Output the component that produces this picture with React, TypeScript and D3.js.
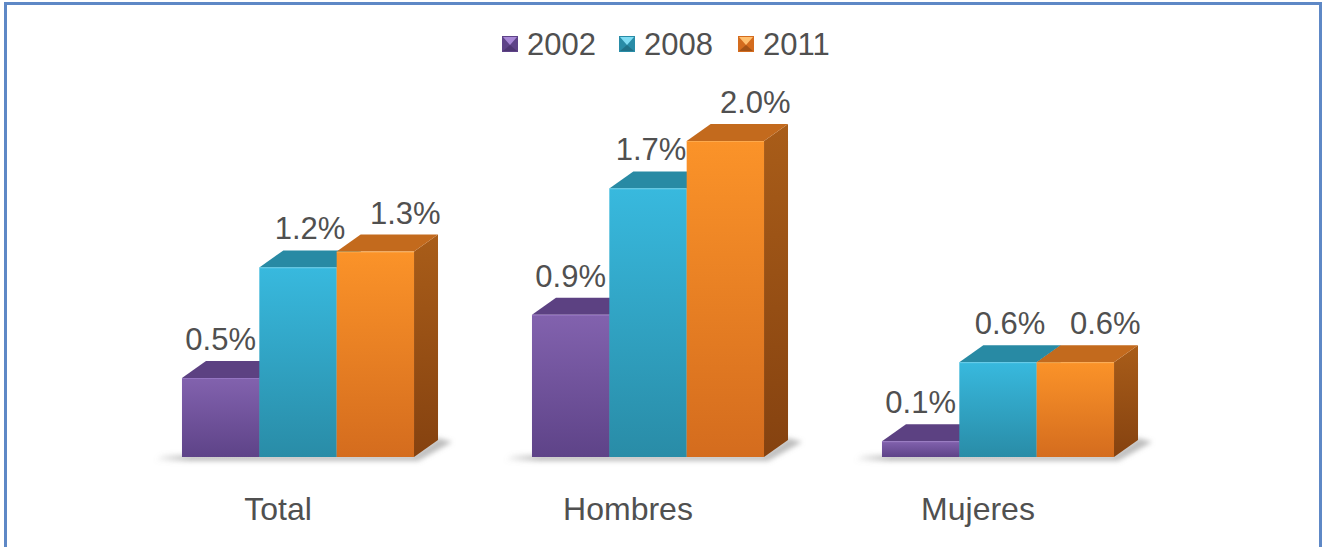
import React from 'react';
import { scaleBand, scaleLinear, format } from 'd3';

const width = 1326;
const height = 547;

// data (percent)
const categories = ['Total', 'Hombres', 'Mujeres'];
const years = ['2002', '2008', '2011'];
const values2002 = [0.5, 0.9, 0.1];
const values2008 = [1.2, 1.7, 0.6];
const values2011 = [1.3, 2.0, 0.6];
const seriesValues = [values2002, values2008, values2011];

// face colours per series: front top, front bottom, top face, side top, side bottom, marker light
const palette = [
  { front0: '#8262ae', front1: '#5e4388', top: '#5c4182', side0: '#54397a', side1: '#452e66', light: '#a888d6' },
  { front0: '#38b9de', front1: '#298ca7', top: '#288aa4', side0: '#22768e', side1: '#1b6175', light: '#7fdcf3' },
  { front0: '#fb9329', front1: '#d46c1e', top: '#c36a1d', side0: '#a95d19', side1: '#854210', light: '#ffc070' },
];
// data labels sit a little right of the front face, more so for the back series
const labelShift = [0, 12, 30];

const baseY = 457;
const dx = 24;
const dy = 17;
const font = '"Liberation Sans", Arial, sans-serif';
const textColor = '#505050';
const fmt = format('.1f');

export default function App() {
  const x0 = scaleBand<string>()
    .domain(categories)
    .range([123, 1173])
    .paddingInner(0.337)
    .paddingOuter(0.1685);
  const x1 = scaleBand<string>().domain(years).range([0, x0.bandwidth()]).padding(0);
  const y = scaleLinear().domain([0, 2]).range([baseY, 141]);

  // legend layout
  const legendWidths = [68, 70, 64];
  let lx = 502;
  const legendItems = years.map((yr, i) => {
    const item = { yr, i, x: lx };
    lx += 16 + 9 + legendWidths[i] + 24;
    return item;
  });

  return (
    <svg width={width} height={height} style={{ position: 'absolute', left: 0, top: 0 }}>
      <defs>
        {palette.map((p, i) => (
          <React.Fragment key={i}>
            <linearGradient id={`front${i}`} x1="0" y1="0" x2="0" y2="1">
              <stop offset="0%" stopColor={p.front0} />
              <stop offset="100%" stopColor={p.front1} />
            </linearGradient>
            <linearGradient id={`side${i}`} x1="0" y1="0" x2="0" y2="1">
              <stop offset="0%" stopColor={p.side0} />
              <stop offset="100%" stopColor={p.side1} />
            </linearGradient>
          </React.Fragment>
        ))}
        <linearGradient id="floor" x1="0" y1="0" x2="1" y2="0">
          <stop offset="0%" stopColor="#888" stopOpacity="0" />
          <stop offset="12%" stopColor="#888" stopOpacity="0.55" />
          <stop offset="100%" stopColor="#888" stopOpacity="0.55" />
        </linearGradient>
        <filter id="blur" x="-10%" y="-100%" width="120%" height="300%">
          <feGaussianBlur stdDeviation="2.5" />
        </filter>
      </defs>

      <rect x={0} y={0} width={width} height={height} fill="#fff" />
      <rect x={5.5} y={3.5} width={1315} height={560} fill="none" stroke="#5e88c6" strokeWidth={3} />

      {/* legend */}
      {legendItems.map(({ yr, i, x }) => (
        <g key={yr}>
          <rect x={x} y={36} width={16} height={16} fill={palette[i].front1} />
          <polygon points={`${x + 1},${37} ${x + 15},${37} ${x + 8},${45}`} fill={palette[i].light} />
          <polygon points={`${x + 1},${51} ${x + 15},${51} ${x + 8},${45}`} fill={palette[i].side1} opacity={0.6} />
          <text x={x + 25} y={55} fontFamily={font} fontSize={31} fill={textColor}>
            {yr}
          </text>
        </g>
      ))}

      {/* groups */}
      {categories.map((cat, ci) => {
        const gx = x0(cat) as number;
        const gw = x0.bandwidth();
        return (
          <g key={cat}>
            <polygon
              points={`${gx - 28},${baseY + 4} ${gx + gw + 4},${baseY + 4} ${gx + gw + dx + 14},${baseY - dy + 2} ${gx + gw + dx},${baseY - dy - 2} ${gx + gw},${baseY - 2} ${gx - 20},${baseY - 2}`}
              fill="url(#floor)"
              filter="url(#blur)"
            />
            {years.map((yr, si) => {
              const v = seriesValues[si][ci];
              const bx = gx + (x1(yr) as number);
              const bw = x1.bandwidth();
              const by = y(v);
              const p = palette[si];
              return (
                <g key={yr}>
                  <polygon
                    points={`${bx + bw},${by} ${bx + bw + dx},${by - dy} ${bx + bw + dx},${baseY - dy} ${bx + bw},${baseY}`}
                    fill={`url(#side${si})`}
                  />
                  <polygon
                    points={`${bx},${by} ${bx + dx},${by - dy} ${bx + bw + dx},${by - dy} ${bx + bw},${by}`}
                    fill={p.top}
                  />
                  <rect x={bx} y={by} width={bw} height={baseY - by} fill={`url(#front${si})`} />
                  <line x1={bx} x2={bx + bw} y1={by + 0.5} y2={by + 0.5} stroke={p.light} strokeOpacity={0.5} />
                </g>
              );
            })}
            {years.map((yr, si) => {
              const v = seriesValues[si][ci];
              const bx = gx + (x1(yr) as number);
              const ly = y(v) - dy - 11;
              // keep the label clear of a taller neighbour bar
              const next = seriesValues[si + 1];
              const blocked = next && y(next[ci]) < ly;
              const shift = blocked ? Math.min(labelShift[si], 3) : labelShift[si];
              return (
                <text
                  key={`l${yr}`}
                  x={bx + x1.bandwidth() / 2 + shift}
                  y={ly}
                  textAnchor="middle"
                  fontFamily={font}
                  fontSize={31}
                  fill={textColor}
                >
                  {`${fmt(v)}%`}
                </text>
              );
            })}
            <text
              x={gx + gw / 2 - 20}
              y={520}
              textAnchor="middle"
              fontFamily={font}
              fontSize={32}
              fill={textColor}
            >
              {cat}
            </text>
          </g>
        );
      })}
    </svg>
  );
}
